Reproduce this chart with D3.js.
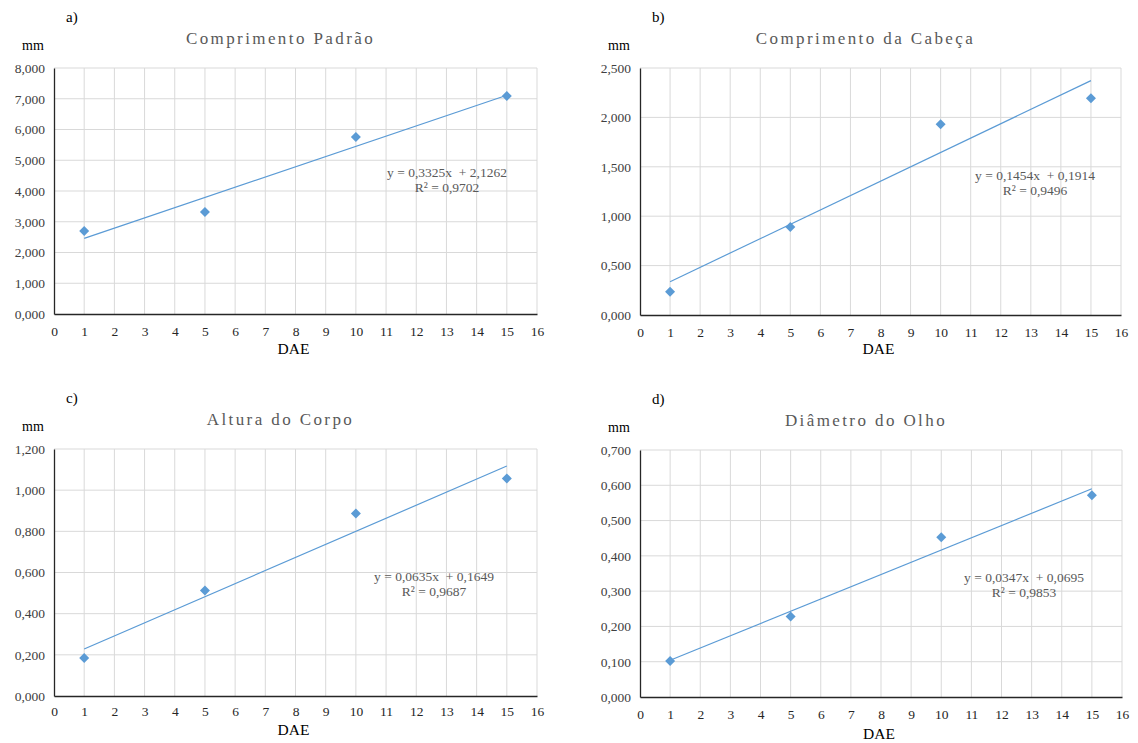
<!DOCTYPE html>
<html>
<head>
<meta charset="utf-8">
<script src="https://cdn.jsdelivr.net/npm/d3@7"></script>
<style>
  body { margin: 0; background: #fff; }
  svg, svg text { font-family: 'Liberation Serif', 'DejaVu Serif', serif !important; }
</style>
</head>
<body>
<svg id="chart" width="1138" height="743"></svg>
<script>
// data
const dae = [1, 5, 10, 15];
const xTicks = d3.range(0, 17);
const titles = ['Comprimento Padrão', 'Comprimento da Cabeça', 'Altura do Corpo', 'Diâmetro do Olho'];
const letters = ['a)', 'b)', 'c)', 'd)'];
const comprimentoPadrao = [2.70, 3.32, 5.76, 7.09];
const comprimentoCabeca = [0.235, 0.89, 1.93, 2.195];
const alturaCorpo = [0.185, 0.513, 0.887, 1.057];
const diametroOlho = [0.102, 0.228, 0.453, 0.572];
const slopes = [0.3325, 0.1454, 0.0635, 0.0347];
const intercepts = [2.1262, 0.1914, 0.1649, 0.0695];
const r2 = [0.9702, 0.9496, 0.9687, 0.9853];
const yMax = [8, 2.5, 1.2, 0.7];
const yStep = [1, 0.5, 0.2, 0.1];

const series = [comprimentoPadrao, comprimentoCabeca, alturaCorpo, diametroOlho];

// layout for each panel
const panels = [
  { left: 54, right: 537, top: 68, bottom: 314, eq: [447, 177], dae: 354, pad: 12 },
  { left: 640, right: 1121, top: 68, bottom: 315, eq: [1035, 180], dae: 354, pad: 12 },
  { left: 54, right: 537, top: 449, bottom: 696, eq: [434, 581], dae: 735, pad: 10 },
  { left: 640, right: 1122, top: 450, bottom: 697, eq: [1024, 582], dae: 739, pad: 12 }
];

const ptBr = d3.formatLocale({ decimal: ',', thousands: '.', grouping: [3], currency: ['', ''] });
const fmt3 = ptBr.format('.3f');
const fmt4 = ptBr.format('.4f');

const blue = '#5b9bd5';
const serif = "'Liberation Serif', 'DejaVu Serif', serif";
const svg = d3.select('#chart').attr('font-family', serif);

panels.forEach((p, i) => {
  const values = series[i];
  const pts = dae.map((x, j) => ({ x: x, y: values[j] }));

  const xScale = d3.scaleLinear().domain([0, 16]).range([p.left, p.right]);
  const yScale = d3.scaleLinear().domain([0, yMax[i]]).range([p.bottom, p.top]);
  const yTicks = d3.range(0, yMax[i] + yStep[i] / 2, yStep[i]);

  const g = svg.append('g');

  // grid
  g.append('g').selectAll('line').data(yTicks.slice(1))
    .enter().append('line')
      .attr('x1', p.left).attr('x2', p.right)
      .attr('y1', d => yScale(d)).attr('y2', d => yScale(d))
      .attr('stroke', '#d9d9d9').attr('stroke-width', 1);
  g.append('g').selectAll('line').data(xTicks.slice(1))
    .enter().append('line')
      .attr('x1', d => xScale(d)).attr('x2', d => xScale(d))
      .attr('y1', p.top).attr('y2', p.bottom)
      .attr('stroke', '#d9d9d9').attr('stroke-width', 1);

  // axes
  const yAxis = d3.axisLeft(yScale).tickValues(yTicks).tickFormat(fmt3).tickSize(0).tickPadding(9);
  const yAxisG = g.append('g').attr('transform', `translate(${p.left},0)`).call(yAxis)
    .attr('font-family', serif);
  yAxisG.select('.domain').attr('stroke', '#262626').attr('stroke-width', 1.3);
  yAxisG.selectAll('text').attr('font-size', 13.5).attr('fill', '#404040');

  const xAxis = d3.axisBottom(xScale).tickValues(xTicks).tickFormat(d3.format('d')).tickSize(0).tickPadding(p.pad);
  const xAxisG = g.append('g').attr('transform', `translate(0,${p.bottom})`).call(xAxis)
    .attr('font-family', serif);
  xAxisG.select('.domain').attr('stroke', '#262626').attr('stroke-width', 1.3);
  xAxisG.selectAll('text').attr('font-size', 13.5).attr('fill', '#262626');

  // labels
  const cx = (p.left + p.right) / 2;
  g.append('text')
    .attr('x', cx - 15).attr('y', p.top - 24)
    .attr('text-anchor', 'middle')
    .attr('font-size', 17).attr('letter-spacing', '2.4px')
    .attr('fill', '#595959')
    .text(titles[i]);
  g.append('text')
    .attr('x', p.left + 12).attr('y', p.top - 46)
    .attr('font-size', 15).attr('fill', '#000')
    .text(letters[i]);
  g.append('text')
    .attr('x', p.left - 32).attr('y', p.top - 18)
    .attr('font-size', 14).attr('fill', '#000')
    .text('mm');
  g.append('text')
    .attr('x', cx - 2).attr('y', p.dae)
    .attr('text-anchor', 'middle')
    .attr('font-size', 15.5).attr('fill', '#000')
    .text('DAE');

  // trend line
  const trend = [dae[0], dae[dae.length - 1]].map(x => ({ x: x, y: slopes[i] * x + intercepts[i] }));
  g.append('path')
    .datum(trend)
    .attr('fill', 'none')
    .attr('stroke', blue)
    .attr('stroke-width', 1.2)
    .attr('d', d3.line().x(d => xScale(d.x)).y(d => yScale(d.y)));

  // points
  g.selectAll('path.pt').data(pts)
    .enter().append('path')
      .attr('class', 'pt')
      .attr('d', d3.symbol().type(d3.symbolSquare).size(50))
      .attr('transform', d => `translate(${xScale(d.x)},${yScale(d.y)}) rotate(45)`)
      .attr('fill', blue);

  // equation
  const eq = g.append('text')
    .attr('x', p.eq[0]).attr('y', p.eq[1])
    .attr('text-anchor', 'middle')
    .attr('font-size', 13.5).attr('fill', '#595959')
    .style('white-space', 'pre');
  eq.append('tspan').attr('x', p.eq[0]).text(`y = ${fmt4(slopes[i])}x  + ${fmt4(intercepts[i])}`);
  eq.append('tspan').attr('x', p.eq[0]).attr('dy', 15).text(`R² = ${fmt4(r2[i])}`);
});
</script>
</body>
</html>
